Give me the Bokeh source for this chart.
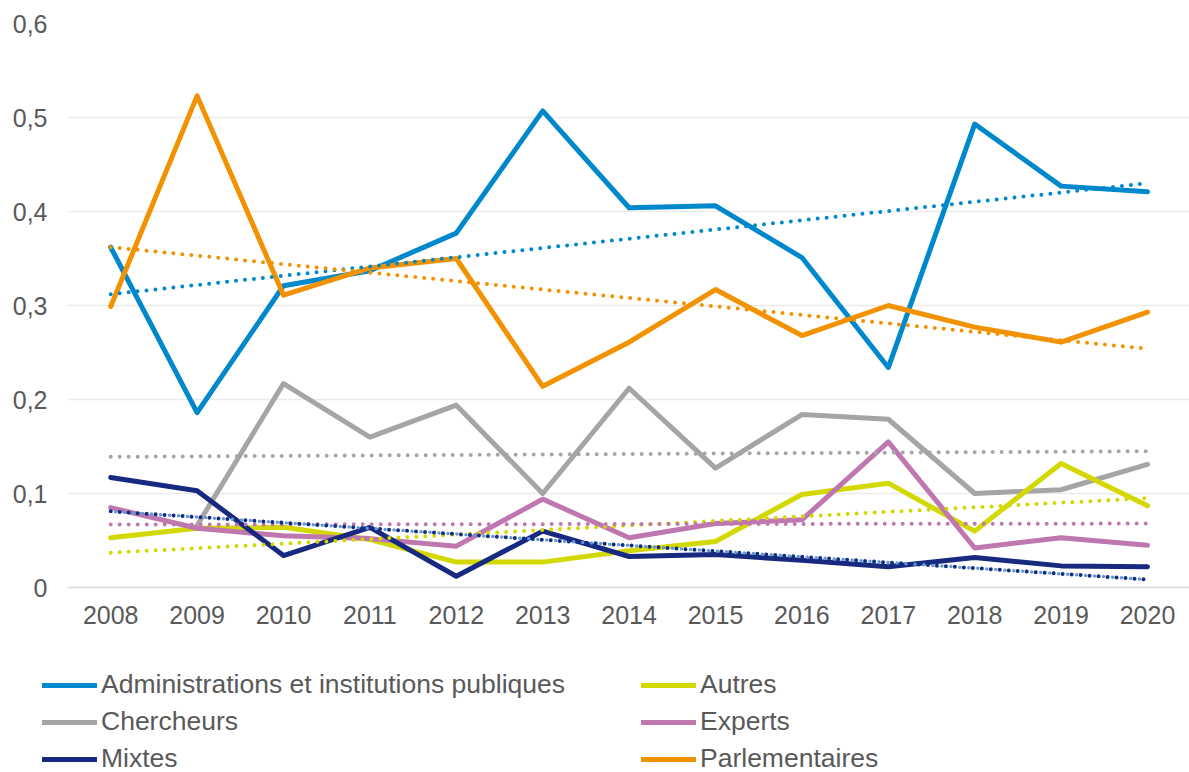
from bokeh.plotting import figure
from bokeh.layouts import column, row
from bokeh.models import (FixedTicker, CustomJSTickFormatter, Legend, LegendItem, Range1d)
from bokeh.embed import file_html
from bokeh.resources import INLINE

nan = float("nan")

years = [2008, 2009, 2010, 2011, 2012, 2013, 2014, 2015, 2016, 2017, 2018, 2019, 2020]

administrations = [0.362, 0.186, 0.321, 0.337, 0.377, 0.507, 0.404, 0.406, 0.351, 0.234, 0.493, 0.427, 0.421]
chercheurs = [nan, 0.066, 0.217, 0.160, 0.194, 0.100, 0.212, 0.127, 0.184, 0.179, 0.100, 0.104, 0.131]
mixtes = [0.117, 0.103, 0.034, 0.064, 0.012, 0.060, 0.033, 0.035, 0.029, 0.022, 0.032, 0.023, 0.022]
autres = [0.053, 0.063, 0.064, 0.051, 0.027, 0.027, 0.039, 0.049, 0.099, 0.111, 0.060, 0.132, 0.087]
experts = [0.085, 0.063, 0.055, 0.052, 0.044, 0.094, 0.053, 0.068, 0.072, 0.155, 0.042, 0.053, 0.045]
parlementaires = [0.299, 0.523, 0.311, 0.340, 0.350, 0.214, 0.261, 0.317, 0.268, 0.300, 0.277, 0.261, 0.293]

series_names = ["Administrations et institutions publiques", "Chercheurs", "Mixtes",
                "Autres", "Experts", "Parlementaires"]
series_values = [administrations, chercheurs, mixtes, autres, experts, parlementaires]
series_colors = ["#0088CC", "#A5A5A5", "#182A80", "#D3D800", "#BF77B0", "#F39200"]

# linear trend lines (values read at first and last year)
trend_years = [2008, 2020]
trend_start = [0.312, 0.139, 0.081, 0.037, 0.067, 0.362]
trend_end = [0.430, 0.145, 0.0085, 0.095, 0.068, 0.254]

y_ticks = [0, 0.1, 0.2, 0.3, 0.4, 0.5, 0.6]

FONT = "Liberation Sans"
TEXT = "#595959"

W = 1189
H1, H2 = 640, 132
left, top, frame_h = 67, 23, 564
px_per_year = 86.4

p = figure(width=W, height=H1, output_backend="svg", toolbar_location=None,
           x_range=Range1d(years[0] - 0.5, years[0] - 0.5 + (W - left) / px_per_year),
           y_range=Range1d(0, 0.6),
           min_border_left=left, min_border_right=0, min_border_top=top,
           min_border_bottom=H1 - top - frame_h)
p.outline_line_color = None
p.background_fill_color = "white"
p.border_fill_color = "white"

p.xgrid.grid_line_color = None
p.ygrid.grid_line_color = "#EBEBEB"
p.ygrid.grid_line_width = 1.3

p.xaxis.ticker = FixedTicker(ticks=years)
p.xaxis.formatter = CustomJSTickFormatter(code="return tick.toFixed(0);")
p.yaxis.ticker = FixedTicker(ticks=y_ticks)
p.yaxis.formatter = CustomJSTickFormatter(
    code="return tick == 0 ? '0' : tick.toFixed(1).replace('.', ',');")

for ax in (p.xaxis[0], p.yaxis[0]):
    ax.major_tick_line_color = None
    ax.minor_tick_line_color = None
    ax.major_tick_out = 0
    ax.major_tick_in = 0
    ax.major_label_text_font = FONT
    ax.major_label_text_font_size = "25px"
    ax.major_label_text_color = TEXT
p.yaxis.axis_line_color = None
p.yaxis.major_label_standoff = 20
p.xaxis.axis_line_color = "#D9D9D9"
p.xaxis.axis_line_width = 1.5
p.xaxis.major_label_standoff = 18

draw_order = [0, 1, 3, 4, 2, 5]
for i in draw_order:
    p.line(years, series_values[i], line_color=series_colors[i], line_width=5,
           line_join="round", line_cap="round")

for i in draw_order:
    if i == 2:
        p.line(trend_years, [trend_start[i], trend_end[i]], line_color="#5B9BD5",
               line_width=3.5, line_dash="0 9", line_cap="round", line_dash_offset=4)
    p.line(trend_years, [trend_start[i], trend_end[i]], line_color=series_colors[i],
           line_width=4, line_dash="0 9", line_cap="round")

# legend panel below the chart (its own plot area, no axes; the series
# drawn there fall outside its ranges, only the legend is visible)
q = figure(width=W, height=H2, output_backend="svg", toolbar_location=None,
           x_range=Range1d(0, 1), y_range=Range1d(0, 1),
           x_axis_location=None, y_axis_location=None,
           min_border_left=0, min_border_right=0, min_border_top=0, min_border_bottom=0)
q.grid.visible = False
q.outline_line_color = None
q.background_fill_color = "white"
q.border_fill_color = "white"

items = []
for i in range(6):
    r = q.line(years, series_values[i], line_color=series_colors[i], line_width=5,
               line_cap="round")
    items.append(LegendItem(label=series_names[i], renderers=[r]))
legend = Legend(items=items, location=(42, -2), orientation="vertical", ncols=2,
                glyph_width=55, glyph_height=30, label_height=30, label_standoff=4,
                label_width=534, spacing=6, padding=0, margin=0,
                border_line_color=None, background_fill_alpha=0,
                label_text_font=FONT, label_text_font_size="26.5px",
                label_text_color=TEXT, label_text_baseline="middle")
q.add_layout(legend, "center")

layout = column(p, row(q, spacing=0), spacing=0)
open("out.html", "w").write(file_html(layout, INLINE))
